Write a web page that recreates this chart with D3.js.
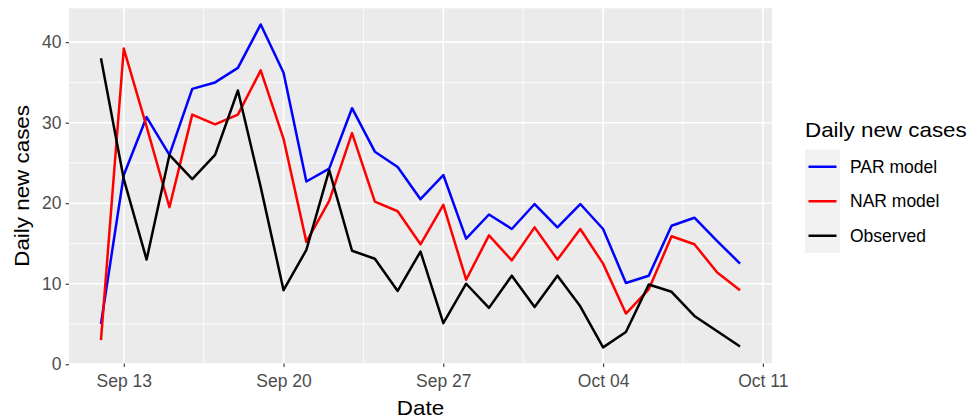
<!DOCTYPE html>
<html>
<head>
<meta charset="utf-8">
<script src="https://cdn.jsdelivr.net/npm/d3@7"></script>
<style>
  html, body { margin: 0; padding: 0; background: #fff; }
  svg { display: block; font-family: "Liberation Sans", Arial, sans-serif; }
</style>
</head>
<body>
<svg id="chart" width="979" height="420"></svg>
<script>
// Daily series, 12 Sep to 10 Oct
const startDate = "2020-09-12";
const parModel = [5, 23.5, 30.7, 26, 34.2, 35, 36.8, 42.2, 36.2, 22.7, 24.3, 31.8, 26.4, 24.5, 20.5, 23.5,
                  15.6, 18.6, 16.8, 19.9, 17, 19.9, 16.8, 10.1, 11, 17.2, 18.2, 15.3, 12.5];
const narModel = [3, 39.2, 29.5, 19.5, 31, 29.8, 31, 36.5, 28, 15.2, 20.3, 28.7, 20.2, 19, 14.9, 19.8,
                  10.5, 16, 12.9, 17, 13, 16.8, 12.5, 6.3, 9.3, 15.9, 14.9, 11.4, 9.2];
const observed = [38, 23, 13, 26, 23, 26, 34, 22, 9.2, 14.2, 24.1, 14.1, 13.1, 9.1, 14, 5.1,
                  10, 7, 11, 7.1, 11, 7.2, 2.1, 4, 9.9, 9, 6, 4.1, 2.2];
const seriesNames = ["PAR model", "NAR model", "Observed"];
const seriesColors = ["#0000ff", "#ff0000", "#000000"];
const yTicks = [0, 10, 20, 30, 40];
const yMinor = [5, 15, 25, 35];
const xTickDates = ["2020-09-13", "2020-09-20", "2020-09-27", "2020-10-04", "2020-10-11"];
const xTickLabels = ["Sep 13", "Sep 20", "Sep 27", "Oct 04", "Oct 11"];

const parse = d3.utcParse("%Y-%m-%d");
const day = 864e5;
const t0 = parse(startDate);
const dates = parModel.map((_, i) => new Date(t0.getTime() + i * day));

const svg = d3.select("#chart");
const W = 979, H = 420;
const margin = { left: 69, right: 207, top: 8.3, bottom: 56.5 };
const pw = W - margin.left - margin.right;
const ph = H - margin.top - margin.bottom;

// ggplot-style 5% expansion on both axes
const xExt = d3.extent(dates);
const xPad = (xExt[1] - xExt[0]) * 0.05;
const x = d3.scaleUtc()
  .domain([new Date(+xExt[0] - xPad), new Date(+xExt[1] + xPad)])
  .range([margin.left, margin.left + pw]);

const allVals = parModel.concat(narModel, observed);
const yLo = d3.min(allVals), yHi = d3.max(allVals);
const yPad = (yHi - yLo) * 0.05;
const y = d3.scaleLinear()
  .domain([yLo - yPad, yHi + yPad])
  .range([margin.top + ph, margin.top]);

// panel
svg.append("rect")
  .attr("x", margin.left).attr("y", margin.top)
  .attr("width", pw).attr("height", ph)
  .attr("fill", "#ebebeb");

const grid = svg.append("g");
const xMajor = xTickDates.map(parse);
const xMinor = [];
for (let i = 0; i < xMajor.length - 1; i++) xMinor.push(new Date((+xMajor[i] + +xMajor[i + 1]) / 2));

grid.selectAll(".ymin").data(yMinor).join("line")
  .attr("x1", margin.left).attr("x2", margin.left + pw)
  .attr("y1", d => y(d)).attr("y2", d => y(d))
  .attr("stroke", "#fff").attr("stroke-width", 0.8);
grid.selectAll(".xmin").data(xMinor).join("line")
  .attr("y1", margin.top).attr("y2", margin.top + ph)
  .attr("x1", d => x(d)).attr("x2", d => x(d))
  .attr("stroke", "#fff").attr("stroke-width", 0.8);
grid.selectAll(".ymaj").data(yTicks).join("line")
  .attr("x1", margin.left).attr("x2", margin.left + pw)
  .attr("y1", d => y(d)).attr("y2", d => y(d))
  .attr("stroke", "#fff").attr("stroke-width", 1.6);
grid.selectAll(".xmaj").data(xMajor.filter(d => x(d) <= margin.left + pw)).join("line")
  .attr("y1", margin.top).attr("y2", margin.top + ph)
  .attr("x1", d => x(d)).attr("x2", d => x(d))
  .attr("stroke", "#fff").attr("stroke-width", 1.6);

// series lines
const series = [parModel, narModel, observed];
const line = d3.line().x((d, i) => x(dates[i])).y(d => y(d));
const plot = svg.append("g");
series.forEach((vals, k) => {
  plot.append("path")
    .datum(vals)
    .attr("d", line)
    .attr("fill", "none")
    .attr("stroke", seriesColors[k])
    .attr("stroke-width", 2.5)
    .attr("stroke-linejoin", "round");
});

// axes
const xAxis = d3.axisBottom(x)
  .tickValues(xMajor)
  .tickFormat((d, i) => xTickLabels[i])
  .tickSize(3.5).tickPadding(7.5);
const gx = svg.append("g").attr("transform", `translate(0,${margin.top + ph})`).call(xAxis);
gx.select(".domain").remove();
gx.selectAll(".tick line").attr("stroke", "#333").attr("stroke-width", 1.1);
gx.selectAll(".tick text").attr("fill", "#4d4d4d").attr("font-size", 17.5)
  .attr("font-family", "Liberation Sans, Arial, sans-serif");

const yAxis = d3.axisLeft(y).tickValues(yTicks).tickSize(3.5).tickPadding(4);
const gy = svg.append("g").attr("transform", `translate(${margin.left},0)`).call(yAxis);
gy.select(".domain").remove();
gy.selectAll(".tick line").attr("stroke", "#333").attr("stroke-width", 1.1);
gy.selectAll(".tick text").attr("fill", "#4d4d4d").attr("font-size", 17.5)
  .attr("font-family", "Liberation Sans, Arial, sans-serif");

// axis titles
svg.append("text")
  .attr("transform", `translate(${margin.left + pw / 2},415) scale(1.12,1)`)
  .attr("text-anchor", "middle")
  .attr("font-size", 20).attr("fill", "#000")
  .text("Date");
svg.append("text")
  .attr("transform", `translate(29,${margin.top + ph / 2}) rotate(-90) scale(1.12,1)`)
  .attr("text-anchor", "middle")
  .attr("font-size", 20).attr("fill", "#000")
  .text("Daily new cases");

// legend
const lg = svg.append("g").attr("transform", "translate(805,0)");
lg.append("text")
  .attr("transform", "translate(0,137) scale(1.12,1)")
  .attr("font-size", 20).attr("fill", "#000")
  .text("Daily new cases");
const keyTop = 149.5, keyH = 34.5, keyW = 35;
seriesNames.forEach((name, k) => {
  const ky = keyTop + k * keyH;
  lg.append("rect").attr("x", 0).attr("y", ky).attr("width", keyW).attr("height", keyH)
    .attr("fill", "#f2f2f2");
  lg.append("line")
    .attr("x1", 3.5).attr("x2", keyW - 3.5)
    .attr("y1", ky + keyH / 2).attr("y2", ky + keyH / 2)
    .attr("stroke", seriesColors[k]).attr("stroke-width", 2.5);
  lg.append("text")
    .attr("x", 45).attr("y", ky + keyH / 2 + 6)
    .attr("font-size", 17.5).attr("fill", "#000")
    .text(name);
});
</script>
</body>
</html>
